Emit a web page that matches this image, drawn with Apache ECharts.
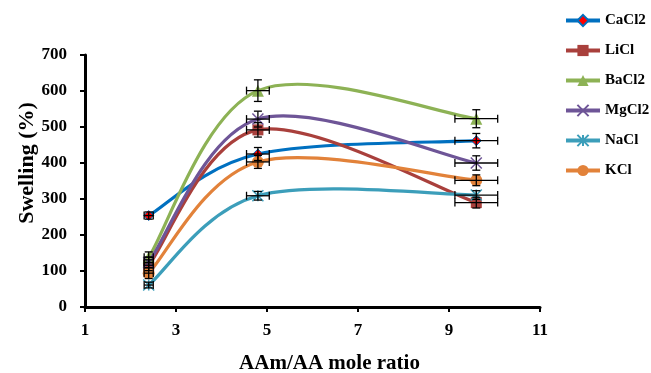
<!DOCTYPE html>
<html>
<head>
<meta charset="utf-8">
<script src="https://cdn.jsdelivr.net/npm/echarts@6/dist/echarts.min.js"></script>
<style>
  html, body { margin: 0; padding: 0; background: #fff; }
  #chart { width: 651px; height: 373px; }
</style>
</head>
<body>
<div id="chart"></div>
<script>
// mole ratios
const ratios = [2.4, 4.8, 9.6];
const ratioErr = [0.1, 0.25, 0.47];

const cacl2 = [254, 425, 462];
const licl = [116, 492, 290];
const bacl2 = [138, 601, 523];
const mgcl2 = [124, 522, 400];
const nacl = [61, 309, 311];
const kcl = [94, 403, 352];

const cacl2Err = [10, 18, 20];
const liclErr = [15, 20, 15];
const bacl2Err = [15, 30, 25];
const mgcl2Err = [15, 22, 20];
const naclErr = [8, 12, 12];
const kclErr = [15, 18, 15];

const yTicks = [0, 100, 200, 300, 400, 500, 600, 700];

const salts = [
  { name: 'CaCl2', vals: cacl2, err: cacl2Err, color: '#0070C0', symbol: 'diamond', size: 10, fill: '#FF0000' },
  { name: 'LiCl', vals: licl, err: liclErr, color: '#A9403C', symbol: 'rect', size: 11 },
  { name: 'BaCl2', vals: bacl2, err: bacl2Err, color: '#8DB255', symbol: 'triangle', size: 12 },
  { name: 'MgCl2', vals: mgcl2, err: mgcl2Err, color: '#6E5597', symbol: 'path://M0,0L10,10M10,0L0,10', size: 11, stroke: true },
  { name: 'NaCl', vals: nacl, err: naclErr, color: '#3C9EBA', symbol: 'path://M0,0L10,10M10,0L0,10M5,0L5,10', size: 11, stroke: true },
  { name: 'KCl', vals: kcl, err: kclErr, color: '#E2823A', symbol: 'circle', size: 12 }
];

const chart = echarts.init(document.getElementById('chart'));

// markers (line itself hidden, curve drawn by custom series below)
const markerSeries = salts.map(s => ({
  name: s.name,
  type: 'line',
  data: ratios.map((x, i) => [x, s.vals[i]]),
  symbol: s.symbol,
  symbolSize: s.size,
  showAllSymbol: true,
  lineStyle: { color: s.color, width: 3, opacity: 0 },
  itemStyle: s.stroke
    ? { color: s.color, borderColor: s.color, borderWidth: 1.5 }
    : { color: s.fill || s.color, borderColor: s.color, borderWidth: s.fill ? 1 : 0 },
  z: 3
}));

// Excel-like smoothed curve: cardinal spline through the data points, drawn in pixel space
const curveSeries = salts.map(s => ({
  type: 'custom',
  silent: true,
  z: 2,
  data: ratios.map((x, i) => [x, s.vals[i]]),
  renderItem: (params, api) => {
    const i = params.dataIndex;
    const n = ratios.length;
    if (i >= n - 1) return null;
    const p = ratios.map((x, k) => api.coord([x, s.vals[k]]));
    const p0 = p[Math.max(i - 1, 0)], p1 = p[i], p2 = p[i + 1], p3 = p[Math.min(i + 2, n - 1)];
    return {
      type: 'bezierCurve',
      shape: {
        x1: p1[0], y1: p1[1],
        cpx1: p1[0] + (p2[0] - p0[0]) / 6, cpy1: p1[1] + (p2[1] - p0[1]) / 6,
        cpx2: p2[0] - (p3[0] - p1[0]) / 6, cpy2: p2[1] - (p3[1] - p1[1]) / 6,
        x2: p2[0], y2: p2[1]
      },
      style: { stroke: s.color, lineWidth: 3.2, fill: null }
    };
  }
}));

// error bar data: [x, y, yErr, xErr]
const errData = [];
salts.forEach(s => {
  ratios.forEach((x, i) => errData.push([x, s.vals[i], s.err[i], ratioErr[i]]));
});

const errSeries = {
  type: 'custom',
  data: errData,
  z: 4,
  silent: true,
  renderItem: (params, api) => {
    const x = api.value(0), y = api.value(1), ye = api.value(2), xe = api.value(3);
    const top = api.coord([x, y + ye]);
    const bot = api.coord([x, y - ye]);
    const left = api.coord([x - xe, y]);
    const right = api.coord([x + xe, y]);
    const c = 4;
    const st = { stroke: '#000', lineWidth: 1.3 };
    return {
      type: 'group',
      children: [
        { type: 'line', shape: { x1: top[0], y1: top[1], x2: bot[0], y2: bot[1] }, style: st },
        { type: 'line', shape: { x1: top[0] - c, y1: top[1], x2: top[0] + c, y2: top[1] }, style: st },
        { type: 'line', shape: { x1: bot[0] - c, y1: bot[1], x2: bot[0] + c, y2: bot[1] }, style: st },
        { type: 'line', shape: { x1: left[0], y1: left[1], x2: right[0], y2: right[1] }, style: st },
        { type: 'line', shape: { x1: left[0], y1: left[1] - c, x2: left[0], y2: left[1] + c }, style: st },
        { type: 'line', shape: { x1: right[0], y1: right[1] - c, x2: right[0], y2: right[1] + c }, style: st }
      ]
    };
  }
};

const font = '"Liberation Serif", "Times New Roman", serif';

chart.setOption({
  animation: false,
  textStyle: { fontFamily: font },
  legend: {
    orient: 'vertical',
    left: 564,
    top: 13,
    padding: 0,
    itemWidth: 34,
    itemHeight: 14,
    itemGap: 15,
    data: salts.map(s => ({ name: s.name, lineStyle: { color: s.color, width: 4, opacity: 1 } })),
    textStyle: { fontFamily: font, fontWeight: 'bold', fontSize: 15, color: '#000' }
  },
  grid: { left: 85, right: 111, top: 55, bottom: 66, containLabel: false, outerBoundsMode: 'none' },
  xAxis: {
    type: 'value',
    min: 1, max: 11, interval: 2,
    name: 'AAm/AA mole ratio',
    nameLocation: 'middle',
    nameGap: 46,
    nameMoveOverlap: false,
    nameTextStyle: { fontFamily: font, fontWeight: 'bold', fontSize: 21, color: '#000', padding: [0, 0, 0, 34] },
    axisLine: { lineStyle: { color: '#000', width: 3 } },
    axisTick: { show: true, length: 5, lineStyle: { color: '#000', width: 2 } },
    axisLabel: { fontFamily: font, fontWeight: 'bold', fontSize: 17, color: '#000', margin: 15 },
    splitLine: { show: false }
  },
  yAxis: {
    type: 'value',
    min: 0, max: 700, interval: 100,
    name: 'Swelling (%)',
    nameLocation: 'middle',
    nameGap: 47,
    nameMoveOverlap: false,
    nameTextStyle: { fontFamily: font, fontWeight: 'bold', fontSize: 22, color: '#000', padding: [0, 0, 0, 36] },
    axisLine: { show: true, lineStyle: { color: '#000', width: 3 } },
    axisTick: { show: true, length: 5, lineStyle: { color: '#000', width: 2 } },
    axisLabel: {
      fontFamily: font, fontWeight: 'bold', fontSize: 17, color: '#000', margin: 18,
      formatter: v => (yTicks.includes(v) ? String(v) : '')
    },
    splitLine: { show: false }
  },
  series: [...markerSeries, ...curveSeries, errSeries]
});
</script>
</body>
</html>
